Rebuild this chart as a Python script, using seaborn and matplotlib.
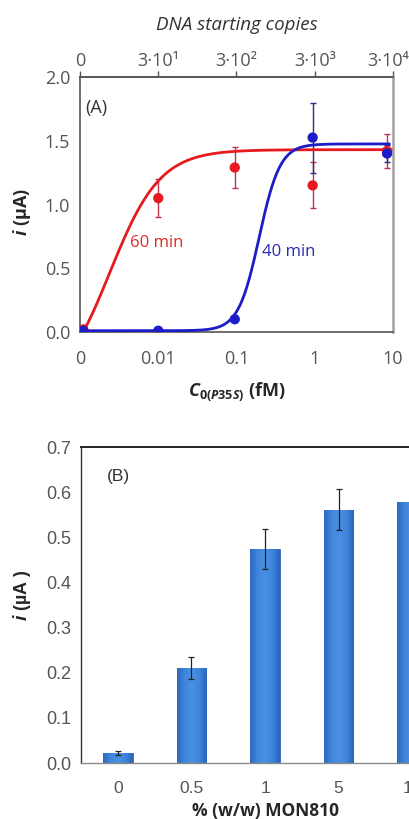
import numpy as np
import matplotlib
matplotlib.use("Agg")
import matplotlib.pyplot as plt
import matplotlib.transforms as mtransforms
from matplotlib.colors import LinearSegmentedColormap
import seaborn as sns

# ---- panel A : measured points (fM, 0 drawn at the 10^-3 position of the log axis)
conc_fM = [0.0011, 0.01, 0.095, 0.94, 8.4]
i_60min = [0.02, 1.05, 1.29, 1.15, 1.42]
err_60min = [0.0, 0.15, 0.16, 0.18, 0.13]
i_40min = [0.01, 0.01, 0.10, 1.525, 1.40]
err_40min = [0.0, 0.0, 0.0, 0.275, 0.07]

# 4-parameter logistic fits drawn through the points (log10 concentration)
fit_60min = dict(bottom=-0.5, top=1.43, log_ec50=-2.62, hill=1.35, start=0.00115, end=9.5)
fit_40min = dict(bottom=0.01, top=1.475, log_ec50=-0.71, hill=3.26, start=0.001, end=9.0)

x_ticks = [0.001, 0.01, 0.1, 1, 10]
x_ticklabels = ["0", "0.01", "0.1", "1", "10"]
copies_ticklabels = ["0", "3·10¹", "3·10²", "3·10³", "3·10⁴"]
y_ticks_a = [0.0, 0.5, 1.0, 1.5, 2.0]

# ---- panel B : bars
mon810 = ["0", "0.5", "1", "5", "10"]
i_mon810 = [0.022, 0.211, 0.474, 0.561, 0.579]
err_mon810 = [0.004, 0.024, 0.045, 0.045, 0.042]
y_ticks_b = [0.0, 0.1, 0.2, 0.3, 0.4, 0.5, 0.6, 0.7]

RED = "#e61a1f"
BLUE = "#1c1cc9"


def logistic(p):
    logc = np.linspace(np.log10(p["start"]), np.log10(p["end"]), 400)
    y = p["bottom"] + (p["top"] - p["bottom"]) / (1 + 10 ** ((p["log_ec50"] - logc) * p["hill"]))
    return 10 ** logc, y


sns.set_theme(style="white")
plt.rcParams["font.family"] = ["Open Sans", "DejaVu Sans"]
plt.rcParams["mathtext.fontset"] = "custom"
plt.rcParams["mathtext.it"] = "Open Sans:italic:bold"
plt.rcParams["mathtext.rm"] = "Open Sans:bold"
plt.rcParams["text.color"] = "#333333"
plt.rcParams["xtick.color"] = "#555555"
plt.rcParams["ytick.color"] = "#555555"

fig = plt.figure(figsize=(4.10, 8.19), dpi=100)
axA = fig.add_axes([80 / 410, 1 - 332 / 819, 313 / 410, 255 / 819])
axB = fig.add_axes([81 / 410, 1 - 763 / 819, 368 / 410, 316 / 819])

# ================= panel A =================
for p, yv, ev, col, ecol in [(fit_60min, i_60min, err_60min, RED, "#b8344a"),
                            (fit_40min, i_40min, err_40min, BLUE, "#2c2c8c")]:
    xc, yc = logistic(p)
    sns.lineplot(x=xc, y=yc, ax=axA, color=col, linewidth=2.0, zorder=3)
    axA.errorbar(conc_fM, yv, yerr=ev, fmt="none", ecolor=ecol, elinewidth=1.0,
                 capsize=2.5, capthick=1.0, zorder=2)
    sns.scatterplot(x=conc_fM, y=yv, ax=axA, color=col, s=55, edgecolor="none", zorder=4)

axA.set_xscale("log")
axA.set_xlim(0.001, 10)
axA.set_ylim(0, 2.0)
axA.set_xticks(x_ticks)
axA.set_xticklabels(x_ticklabels)
axA.xaxis.set_minor_locator(matplotlib.ticker.NullLocator())
axA.set_yticks(y_ticks_a)
axA.set_yticklabels([f"{v:.1f}" for v in y_ticks_a])
axA.tick_params(axis="both", labelsize=13, length=5, width=1, direction="out")
axA.tick_params(axis="x", pad=8)
axA.tick_params(axis="y", pad=2)
for s in ["left", "bottom", "top"]:
    axA.spines[s].set_color("#555555")
    axA.spines[s].set_linewidth(1.2)
axA.spines["right"].set_color("#a0a0a0")
axA.spines["right"].set_linewidth(1.8)

top = axA.secondary_xaxis("top")
top.set_xticks(x_ticks)
top.set_xticklabels(copies_ticklabels)
top.xaxis.set_minor_locator(matplotlib.ticker.NullLocator())
top.tick_params(labelsize=13, length=4, width=1, direction="out", pad=1)
top.spines["top"].set_color("#555555")
top.spines["top"].set_linewidth(1.2)
# the last copy label sits a little left of its tick in the original
last = top.get_xticklabels()[-1]
last.set_transform(last.get_transform() + mtransforms.ScaledTranslation(-5 / 100, 0, fig.dpi_scale_trans))

axA.text(0.5, 1.204, "DNA starting copies", transform=axA.transAxes, fontsize=13.5,
         fontstyle="italic", ha="center", va="center", color="#333333")

axA.set_xlabel(r"$\mathit{C}_{\mathit{0(P35S)}}$ (fM)", fontsize=13, fontweight="bold")
axA.xaxis.set_label_coords(0.5, -0.19)
axA.set_ylabel(r"$\mathit{i}$ (µA)", fontsize=13, fontweight="bold")
axA.yaxis.set_label_coords(-0.15, 0.47)

axA.text(0.016, 0.878, "(A)", transform=axA.transAxes, fontsize=13, va="center")
axA.text(0.16, 0.349, "60 min", transform=axA.transAxes, fontsize=12, va="center", color="#e02a2a")
axA.text(0.581, 0.314, "40 min", transform=axA.transAxes, fontsize=12, va="center", color="#2a2ab4")

# ================= panel B =================
sns.barplot(x=mon810, y=i_mon810, order=mon810, ax=axB, color="#3b7fd8", saturation=1,
            width=0.4, edgecolor="#2d68bd", linewidth=0.6, errorbar=None)
axB.errorbar(range(len(mon810)), i_mon810, yerr=err_mon810, fmt="none", ecolor="#222222",
             elinewidth=0.9, capsize=2.5, capthick=0.9, zorder=5)

# Excel-like shading across each bar
shade = LinearSegmentedColormap.from_list(
    "bar", ["#2d68bf", "#3f86dc", "#4a90e4", "#3f86dc", "#2d64b8"])
grad = np.linspace(0, 1, 64).reshape(1, -1)
for bar in axB.patches:
    x0, y0 = bar.get_x(), bar.get_y()
    w, h = bar.get_width(), bar.get_height()
    im = axB.imshow(grad, extent=[x0, x0 + w, y0, y0 + h], aspect="auto", cmap=shade,
                    zorder=bar.get_zorder() + 0.1, interpolation="bicubic")
    im.set_clip_path(bar)

axB.set_xlim(-0.5, len(mon810) - 0.5)
axB.set_ylim(0, 0.7)
axB.set_yticks(y_ticks_b)
axB.set_yticklabels([f"{v:.1f}" for v in y_ticks_b], family=["Liberation Sans"])
axB.set_xticks(range(len(mon810)))
axB.set_xticklabels(mon810, family=["Liberation Sans"])
axB.set_xticks(np.arange(-0.5, len(mon810)), minor=True)
axB.tick_params(axis="x", which="major", length=0, labelsize=12.5, pad=13)
axB.tick_params(axis="x", which="minor", length=4, width=1, color="#888888", direction="out")
axB.tick_params(axis="y", labelsize=13, length=3, width=1, color="#555555", pad=4)
axB.spines["top"].set_color("#111111")
axB.spines["top"].set_linewidth(1.3)
axB.spines["left"].set_color("#333333")
axB.spines["left"].set_linewidth(1.0)
axB.spines["bottom"].set_color("#8a8a8a")
axB.spines["bottom"].set_linewidth(1.0)

axB.set_xlabel("% (w/w) MON810", fontsize=12.5, fontweight="bold", labelpad=4)
axB.set_ylabel(r"$\mathit{i}$ (µA )", fontsize=13, fontweight="bold", family=["Liberation Sans"])
axB.yaxis.set_label_coords(-0.13, 0.53)
axB.text(0.0707, 0.908, "(B)", transform=axB.transAxes, fontsize=12.5, va="center",
         family=["Liberation Sans"])

fig.savefig("out.png", dpi=100)
